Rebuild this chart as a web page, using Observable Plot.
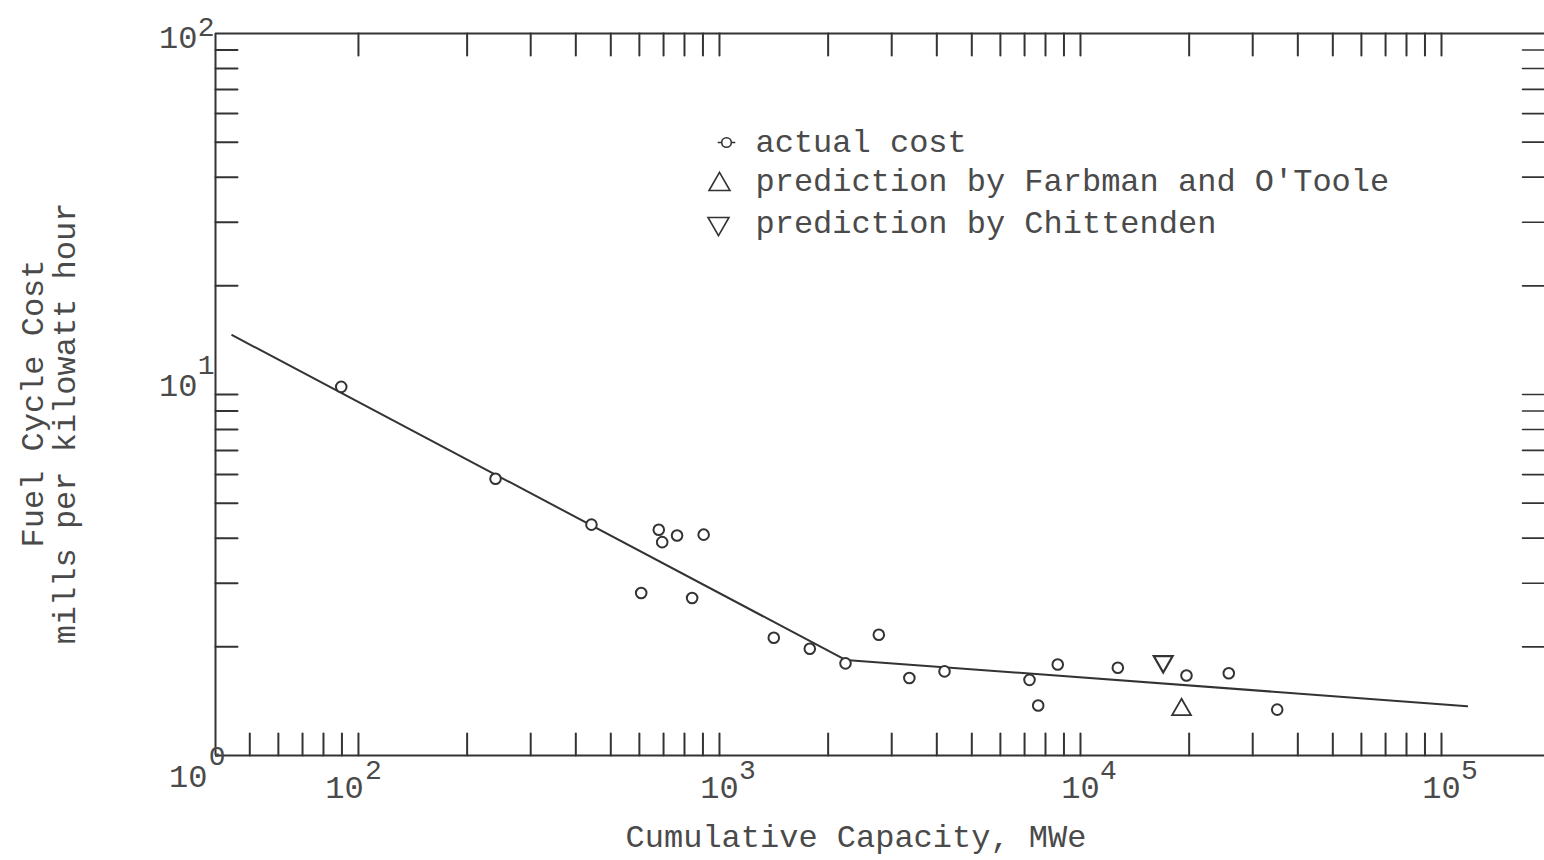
<!DOCTYPE html>
<html>
<head>
<meta charset="utf-8">
<script src="https://cdn.jsdelivr.net/npm/d3@7"></script>
<script src="https://cdn.jsdelivr.net/npm/@observablehq/plot@0.6"></script>
<style>
  html, body { margin: 0; padding: 0; background: #fff; }
  #chart svg { display: block; }
</style>
</head>
<body>
<div id="chart"></div>
<script>
// ---------- data ----------
const capacity = [89.6, 239.7, 442, 679, 694, 763, 904, 607, 840, 1414, 1779, 2234, 2763, 3357, 4201, 7224, 7636, 8650, 12690, 19660, 25750, 35070];
const cost     = [10.5, 5.84, 4.36, 4.22, 3.90, 4.07, 4.09, 2.82, 2.73, 2.12, 1.975, 1.80, 2.16, 1.64, 1.71, 1.62, 1.375, 1.787, 1.75, 1.665, 1.69, 1.34];

const farbmanCapacity = [19050];
const farbmanCost = [1.34];
const chittendenCapacity = [16950];
const chittendenCost = [1.82];

const fitCapacity = [44.7, 2234, 117800];
const fitCost = [14.6, 1.84, 1.37];

const xTicksBottom = [50, 60, 70, 80, 90, 100, 200, 300, 400, 500, 600, 700, 800, 900, 1000,
  2000, 3000, 4000, 5000, 6000, 7000, 8000, 9000, 10000,
  20000, 30000, 40000, 50000, 60000, 70000, 80000, 90000, 100000];
const xTicksTop = [100, 200, 300, 400, 500, 600, 700, 800, 900, 1000,
  2000, 3000, 4000, 5000, 6000, 7000, 8000, 9000, 10000,
  20000, 30000, 40000, 50000, 60000, 70000, 80000, 90000, 100000];
const yTicks = [2, 3, 4, 5, 6, 7, 8, 9, 10, 20, 30, 40, 50, 60, 70, 80, 90];

const xLabelValues = [100, 1000, 10000, 100000];
const yLabelValues = [1, 10, 100];

const legendLabels = ["actual cost", "prediction by Farbman and O'Toole", "prediction by Chittenden"];
const xTitle = "Cumulative Capacity, MWe";
const yTitleLines = ["Fuel Cycle Cost", "mills per kilowatt hour"];

const xDomain = [40.18, 192900];
const yDomain = [1, 100];

// ---------- styling ----------
const ink = "#333";
const textInk = "#4a4a4a";
const font = "'Liberation Mono', 'Courier New', 'DejaVu Sans Mono', monospace";

const tickShape = { draw(ctx, l) { ctx.moveTo(0, 0); ctx.lineTo(0, -l); } };
const upTriangle = {
  draw(ctx, size) {
    const s = Math.sqrt(size) * 0.6824, t = s / 2, u = s * Math.sqrt(3) / 2;
    ctx.moveTo(0, -s); ctx.lineTo(u, t); ctx.lineTo(-u, t); ctx.closePath();
  }
};
const downTriangle = {
  draw(ctx, size) {
    const s = Math.sqrt(size) * 0.6824, t = s / 2, u = s * Math.sqrt(3) / 2;
    ctx.moveTo(0, s); ctx.lineTo(u, -t); ctx.lineTo(-u, -t); ctx.closePath();
  }
};
const legendCircle = {
  draw(ctx, size) {
    const r = Math.sqrt(size / Math.PI);
    ctx.moveTo(r, 0); ctx.arc(0, 0, r, 0, 2 * Math.PI);
    ctx.moveTo(-r - 4, 0); ctx.lineTo(-r, 0);
    ctx.moveTo(r, 0); ctx.lineTo(r + 4, 0);
  }
};

const sup = v => String(Math.round(Math.log10(v)));

// per-label offsets (layout, not data)
const xLabelOffset = v => v === 100 ? {base: -14, exp: 15} : {base: 0, exp: 28};
const yLabelOffset = {
  1:   {bdx: -8,  bdy: 21, edx: 10, edy: 1},
  10:  {bdx: -18, bdy: -9, edx: -1, edy: -29},
  100: {bdx: -18, bdy: 4,  edx: -1, edy: -6}
};

const idx = d3.range(capacity.length);
const fitIdx = d3.range(fitCapacity.length);

const marks = [];

// frame (top, bottom, left)
marks.push(Plot.ruleY(yDomain, {stroke: ink, strokeWidth: 2}));
marks.push(Plot.ruleX([xDomain[0]], {stroke: ink, strokeWidth: 2}));

// inward tick marks
marks.push(Plot.vector(xTicksBottom, {x: d => d, frameAnchor: "bottom", length: 22, rotate: 0, anchor: "start", shape: tickShape, stroke: ink, strokeWidth: 2}));
marks.push(Plot.vector(xTicksTop, {x: d => d, frameAnchor: "top", length: 22, rotate: 180, anchor: "start", shape: tickShape, stroke: ink, strokeWidth: 2}));
marks.push(Plot.vector(yTicks, {y: d => d, frameAnchor: "left", length: 22, rotate: 90, anchor: "start", shape: tickShape, stroke: ink, strokeWidth: 2}));
marks.push(Plot.vector(yTicks, {y: d => d, frameAnchor: "right", length: 22, rotate: -90, anchor: "start", shape: tickShape, stroke: ink, strokeWidth: 1.6}));

// x tick labels 10^n
for (const v of xLabelValues) {
  const o = xLabelOffset(v);
  marks.push(Plot.text([v], {x: d => d, frameAnchor: "bottom", text: () => "10", dx: o.base, dy: 32, fontSize: 32, fill: textInk, textAnchor: "middle", lineAnchor: "middle"}));
  marks.push(Plot.text([v], {x: d => d, frameAnchor: "bottom", text: d => sup(d), dx: o.exp, dy: 15, fontSize: 28, fill: textInk, textAnchor: "middle", lineAnchor: "middle"}));
}
// y tick labels 10^n
for (const v of yLabelValues) {
  const o = yLabelOffset[v];
  marks.push(Plot.text([v], {y: d => d, frameAnchor: "left", text: () => "10", dx: o.bdx, dy: o.bdy, fontSize: 32, fill: textInk, textAnchor: "end", lineAnchor: "middle"}));
  marks.push(Plot.text([v], {y: d => d, frameAnchor: "left", text: d => sup(d), dx: o.edx, dy: o.edy, fontSize: 28, fill: textInk, textAnchor: "end", lineAnchor: "middle"}));
}

// axis titles
marks.push(Plot.text([xTitle], {frameAnchor: "bottom", dx: -24, dy: 81, fontSize: 32, fill: textInk, textAnchor: "middle", lineAnchor: "middle"}));
marks.push(Plot.text([yTitleLines[0]], {frameAnchor: "left", dx: -183, dy: 9, rotate: -90, fontSize: 32, fill: textInk, textAnchor: "middle", lineAnchor: "middle"}));
marks.push(Plot.text([yTitleLines[1]], {frameAnchor: "left", dx: -151, dy: 29, rotate: -90, fontSize: 32, fill: textInk, textAnchor: "middle", lineAnchor: "middle"}));

// fitted learning curve
marks.push(Plot.line(fitIdx, {x: i => fitCapacity[i], y: i => fitCost[i], stroke: ink, strokeWidth: 2}));

// actual cost points
marks.push(Plot.dot(idx, {x: i => capacity[i], y: i => cost[i], r: 5.3, stroke: ink, strokeWidth: 2, fill: "white"}));
// predictions
marks.push(Plot.dot(farbmanCapacity.map((_, i) => i), {x: i => farbmanCapacity[i], y: i => farbmanCost[i], symbol: upTriangle, r: 9, stroke: ink, strokeWidth: 1.8, fill: "none"}));
marks.push(Plot.dot(chittendenCapacity.map((_, i) => i), {x: i => chittendenCapacity[i], y: i => chittendenCost[i], symbol: downTriangle, r: 9, stroke: ink, strokeWidth: 2.2, fill: "none"}));

// legend
const legendSymbols = [
  {symbol: legendCircle, r: 4.8, dx: 511, dy: 109},
  {symbol: upTriangle, r: 10, dx: 504, dy: 151},
  {symbol: downTriangle, r: 10, dx: 503, dy: 190}
];
const legendTextDy = [108, 147, 189];
legendLabels.forEach((label, i) => {
  const s = legendSymbols[i];
  marks.push(Plot.dot([label], {frameAnchor: "top-left", dx: s.dx, dy: s.dy, symbol: s.symbol, r: s.r, stroke: ink, strokeWidth: 1.6, fill: "none"}));
  marks.push(Plot.text([label], {frameAnchor: "top-left", dx: 540, dy: legendTextDy[i], fontSize: 32, fill: textInk, textAnchor: "start", lineAnchor: "middle"}));
});

const chart = Plot.plot({
  width: 1544,
  height: 860,
  marginLeft: 215,
  marginRight: 0,
  marginTop: 33,
  marginBottom: 105,
  x: {type: "log", domain: xDomain, axis: null},
  y: {type: "log", domain: yDomain, axis: null},
  style: {fontFamily: font, background: "white", color: textInk, overflow: "visible"},
  marks
});
document.getElementById("chart").appendChild(chart);
</script>
</body>
</html>
